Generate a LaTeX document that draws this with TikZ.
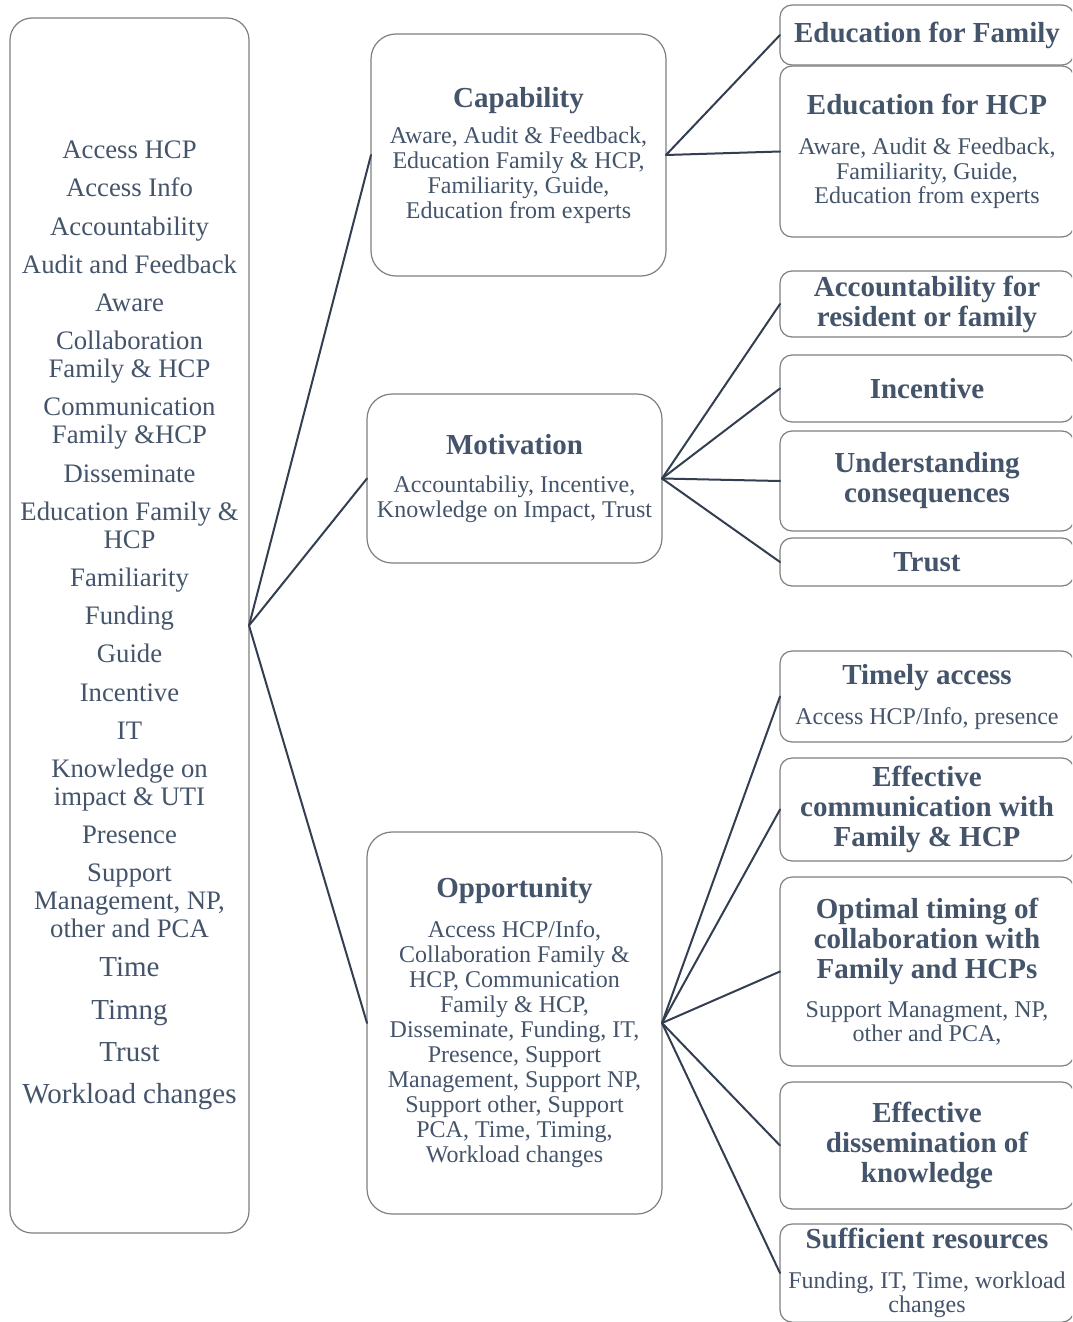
\documentclass[tikz,border=0pt]{standalone}
\usepackage{fontspec}
\setmainfont{Liberation Serif}
\usepackage{tikz}
\usetikzlibrary{positioning}

\definecolor{txtblue}{HTML}{44546A}
\definecolor{linkblue}{HTML}{333F50}
\definecolor{boxgray}{HTML}{7F7F7F}

\newcommand{\hd}[1]{{\fontsize{29}{30}\selectfont\bfseries #1}}

\tikzset{
  anybox/.style={draw=boxgray,line width=1.2pt,fill=white,text=txtblue,align=center,inner sep=4pt,outer sep=0pt},
  lstbox/.style={anybox,rounded corners=22pt,minimum width=239pt,minimum height=1215pt,font=\fontsize{26.7}{28}\selectfont},
  midbox/.style={anybox,rounded corners=25pt,minimum width=295pt,font=\fontsize{24}{25}\selectfont},
  subbox/.style={anybox,rounded corners=12pt,minimum width=294pt,font=\fontsize{24}{30}\selectfont},
  link/.style={draw=linkblue,line width=2pt,line cap=round}
}

\begin{document}
\begin{tikzpicture}[x=1pt,y=-1pt]
  \useasboundingbox (0,0) rectangle (1072,1322);
  \clip (0,0) rectangle (1072,1322);

  % list of codes
  \node[lstbox] (lst) at (129.5,625.5) {Access HCP\\[10.2pt] Access Info\\[10.2pt] Accountability\\[10.2pt] Audit and Feedback\\[10.2pt] Aware\\[10.2pt]
    Collaboration\\ Family \& HCP\\[10.2pt] Communication\\ Family \&HCP\\[10.2pt] Disseminate\\[10.2pt] Education Family \&\\ HCP\\[10.2pt]
    Familiarity\\[10.2pt] Funding\\[10.2pt] Guide\\[10.2pt] Incentive\\[10.2pt] IT\\[10.2pt] Knowledge on\\ impact \& UTI\\[10.2pt] Presence\\[10.2pt]
    Support\\ Management, NP,\\ other and PCA\\[11pt] {\fontsize{29}{31}\selectfont Time}\\[15pt] {\fontsize{29}{31}\selectfont Timng}\\[14pt]
    {\fontsize{29}{31}\selectfont Trust}\\[14pt] {\fontsize{29}{31}\selectfont Workload changes}};

  % COM-B
  \node[midbox,minimum height=242pt] (cap) at (518.5,155) {\hd{Capability}\\[11pt] Aware, Audit \& Feedback,\\ Education Family \& HCP,\\ Familiarity, Guide,\\ Education from experts};
  \node[midbox,minimum height=169pt] (mot) at (514.5,478.5) {\hd{Motivation}\\[13pt] Accountabiliy, Incentive,\\ Knowledge on Impact, Trust};
  \node[midbox,minimum height=382pt] (opp) at (514.5,1023) {\hd{Opportunity}\\[15pt] Access HCP/Info,\\ Collaboration Family \&\\ HCP, Communication\\ Family \& HCP,\\ Disseminate, Funding, IT,\\
    Presence, Support\\ Management, Support NP,\\ Support other, Support\\ PCA, Time, Timing,\\ Workload changes};

  % themes
  \node[subbox,minimum height=60pt] (edufam) at (927,35) {\hd{Education for Family}};
  \node[subbox,minimum height=171pt,below=1pt of edufam] (eduhcp) {\hd{Education for HCP}\\[10pt] Aware, Audit \& Feedback,\\[-5.5pt] Familiarity, Guide,\\[-5.5pt] Education from experts};
  \node[subbox,minimum height=66pt,below=34pt of eduhcp] (acc) {\hd{Accountability for}\\ \hd{resident or family}};
  \node[subbox,minimum height=67pt,below=18pt of acc] (inc) {\hd{Incentive}};
  \node[subbox,minimum height=100pt,below=9pt of inc] (und) {\hd{Understanding}\\ \hd{consequences}};
  \node[subbox,minimum height=48pt,below=7pt of und] (trust) {\hd{Trust}};
  \node[subbox,minimum height=91pt,below=65pt of trust] (timely) {\hd{Timely access}\\[10pt] Access HCP/Info, presence};
  \node[subbox,minimum height=103pt,below=16pt of timely] (comm) {\hd{Effective}\\ \hd{communication with}\\ \hd{Family \& HCP}};
  \node[subbox,minimum height=189pt,below=16pt of comm] (timing) {\hd{Optimal timing of}\\ \hd{collaboration with}\\ \hd{Family and HCPs}\\[9pt] Support Managment, NP,\\[-5.5pt] other and PCA,};
  \node[subbox,minimum height=127pt,below=16pt of timing] (dissem) {\hd{Effective}\\ \hd{dissemination of}\\ \hd{knowledge}};
  \node[subbox,minimum height=98pt,below=15pt of dissem] (res) {\hd{Sufficient resources}\\[10pt] Funding, IT, Time, workload\\[-5.5pt] changes};

  \draw[link] (lst.east) -- (cap.west);
  \draw[link] (lst.east) -- (mot.west);
  \draw[link] (lst.east) -- (opp.west);
  \draw[link] (cap.east) -- (edufam.west);
  \draw[link] (cap.east) -- (eduhcp.west);
  \draw[link] (mot.east) -- (acc.west);
  \draw[link] (mot.east) -- (inc.west);
  \draw[link] (mot.east) -- (und.west);
  \draw[link] (mot.east) -- (trust.west);
  \draw[link] (opp.east) -- (timely.west);
  \draw[link] (opp.east) -- (comm.west);
  \draw[link] (opp.east) -- (timing.west);
  \draw[link] (opp.east) -- (dissem.west);
  \draw[link] (opp.east) -- (res.west);
\end{tikzpicture}
\end{document}
